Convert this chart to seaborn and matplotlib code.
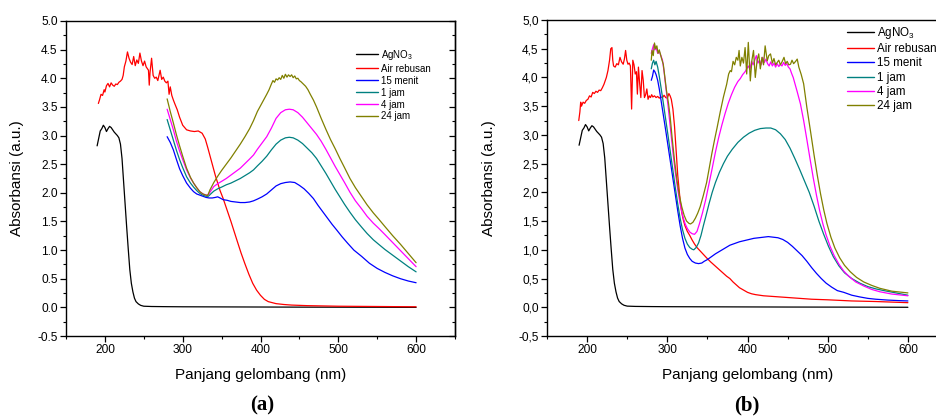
import numpy as np
import pandas as pd
import matplotlib
matplotlib.use("Agg")
import matplotlib.pyplot as plt
import seaborn as sns
from matplotlib.ticker import MultipleLocator, FixedLocator, FuncFormatter
from matplotlib.lines import Line2D

# ---------------- data ----------------
series_labels = ["AgNO$_3$", "Air rebusan", "15 menit", "1 jam", "4 jam", "24 jam"]
series_colors = ["#000000", "#ff0000", "#0000ff", "#008080", "#ff00ff", "#808000"]

# AgNO3 (same spectrum in both panels)
agno3_nm = [190, 192, 194, 196, 198, 200, 202, 204, 206, 208, 210, 212, 214, 216, 218, 220,
            222, 224, 226, 228, 230, 232, 234, 236, 238, 240, 243, 246, 250, 260, 280, 300,
            350, 400, 450, 500, 550, 600]
agno3_abs = [2.82, 2.95, 3.08, 3.12, 3.18, 3.14, 3.07, 3.12, 3.16, 3.14, 3.10, 3.06, 3.03, 3.00, 2.96, 2.85,
             2.60, 2.20, 1.80, 1.40, 1.02, 0.66, 0.42, 0.27, 0.16, 0.10, 0.06, 0.035, 0.02, 0.015, 0.012, 0.01,
             0.008, 0.006, 0.004, 0.003, 0.002, 0.0]

# ---- panel (a) ----
a_air_nm = [191.6, 193, 195, 197, 199, 200, 202, 204, 206, 208, 210, 212, 214, 216, 218, 220, 222, 223.5,
            225, 227, 229, 231, 233, 235, 237, 239, 241, 243, 245, 247, 249, 251, 253, 255, 256, 257, 258,
            260, 262, 264, 266, 268, 270, 271, 273, 275, 277, 279, 281, 282.5, 284, 286, 288, 290, 293,
            296, 300, 305, 310, 315, 320, 325, 329, 332, 335, 338, 342, 345, 348, 352, 357, 362, 366, 370,
            375, 380, 385, 390, 395, 400, 405, 410, 420, 430, 440, 460, 500, 550, 600]
a_air_abs = [3.56, 3.62, 3.72, 3.70, 3.80, 3.76, 3.87, 3.91, 3.85, 3.92, 3.88, 3.86, 3.90, 3.89, 3.93, 3.95,
             3.98, 4.05, 4.20, 4.30, 4.46, 4.35, 4.28, 4.24, 4.38, 4.22, 4.32, 4.26, 4.44, 4.30, 4.22, 4.30,
             4.20, 4.16, 4.14, 3.88, 4.10, 4.35, 4.05, 4.00, 4.02, 3.96, 4.08, 4.14, 3.98, 4.02, 3.95, 3.92,
             3.95, 3.72, 3.85, 3.70, 3.62, 3.55, 3.45, 3.32, 3.18, 3.10, 3.08, 3.07, 3.08, 3.04, 2.94, 2.80,
             2.65, 2.50, 2.30, 2.17, 2.04, 1.90, 1.70, 1.50, 1.33, 1.16, 0.95, 0.76, 0.58, 0.42, 0.30, 0.21,
             0.14, 0.10, 0.065, 0.05, 0.04, 0.03, 0.02, 0.015, 0.01]

a_15m_nm = [280, 284, 288, 292, 296, 300, 305, 310, 314, 318, 322, 326, 330, 334, 338, 342, 345, 348, 352,
            357, 362, 368, 374, 380, 386, 391, 396, 402, 408, 414, 420, 426, 432, 438, 444, 450, 456, 462,
            468, 474, 480, 486, 492, 498, 505, 512, 520, 530, 540, 550, 560, 570, 580, 590, 600]
a_15m_abs = [2.98, 2.88, 2.75, 2.58, 2.42, 2.30, 2.17, 2.08, 2.02, 1.98, 1.96, 1.94, 1.92, 1.91, 1.91, 1.92,
             1.93, 1.91, 1.88, 1.87, 1.85, 1.84, 1.83, 1.83, 1.84, 1.86, 1.89, 1.93, 1.98, 2.05, 2.12, 2.16,
             2.18, 2.19, 2.18, 2.13, 2.07, 1.99, 1.90, 1.78, 1.67, 1.56, 1.45, 1.35, 1.23, 1.12, 1.00, 0.89,
             0.77, 0.68, 0.61, 0.55, 0.50, 0.46, 0.43]

a_1j_nm = [280, 284, 288, 292, 296, 300, 305, 310, 314, 318, 322, 326, 330, 333, 336, 340, 345, 350, 356,
           362, 368, 374, 380, 386, 391, 396, 402, 408, 414, 420, 426, 432, 437, 442, 448, 454, 460, 466,
           472, 478, 484, 490, 496, 502, 508, 515, 522, 530, 537, 545, 552, 560, 570, 580, 590, 600]
a_1j_abs = [3.28, 3.10, 2.92, 2.74, 2.58, 2.44, 2.28, 2.17, 2.10, 2.04, 1.99, 1.96, 1.94, 1.94, 1.98, 2.03,
            2.07, 2.10, 2.14, 2.17, 2.21, 2.25, 2.30, 2.35, 2.40, 2.47, 2.55, 2.64, 2.75, 2.85, 2.92, 2.96,
            2.97, 2.96, 2.92, 2.86, 2.78, 2.70, 2.60, 2.47, 2.34, 2.20, 2.06, 1.93, 1.80, 1.66, 1.53, 1.40,
            1.29, 1.18, 1.10, 1.01, 0.91, 0.81, 0.71, 0.62]

a_4j_nm = [280, 284, 288, 292, 296, 300, 305, 310, 314, 318, 322, 326, 330, 333, 336, 340, 345, 350, 356,
           362, 368, 374, 380, 386, 391, 396, 402, 408, 414, 420, 426, 432, 437, 442, 448, 454, 460, 466,
           472, 478, 484, 490, 496, 502, 508, 515, 522, 530, 537, 545, 552, 560, 570, 580, 590, 600]
a_4j_abs = [3.46, 3.28, 3.10, 2.90, 2.73, 2.58, 2.40, 2.26, 2.17, 2.09, 2.02, 1.98, 1.96, 1.97, 2.03, 2.11,
            2.16, 2.20, 2.25, 2.31, 2.37, 2.43, 2.51, 2.59, 2.66, 2.76, 2.87, 2.98, 3.13, 3.30, 3.40, 3.45,
            3.46, 3.45, 3.40, 3.32, 3.22, 3.12, 3.02, 2.90, 2.76, 2.61, 2.46, 2.32, 2.18, 2.01, 1.86, 1.72,
            1.59, 1.47, 1.38, 1.27, 1.13, 0.99, 0.85, 0.71]

a_24j_nm = [280, 284, 288, 292, 296, 300, 305, 310, 314, 318, 322, 326, 330, 332, 335, 340, 345, 350, 356,
            362, 368, 374, 380, 386, 391, 396, 400, 404, 408, 411, 414, 416, 418, 420, 422, 424, 426, 428,
            430, 432, 434, 436, 438, 440, 442, 444, 446, 448, 450, 452, 455, 458, 461, 464, 468, 472, 478,
            484, 490, 496, 502, 508, 515, 522, 530, 537, 545, 552, 560, 570, 580, 590, 600]
a_24j_abs = [3.64, 3.42, 3.22, 3.01, 2.82, 2.64, 2.43, 2.27, 2.17, 2.09, 2.02, 1.98, 1.96, 1.95, 2.05, 2.18,
             2.29, 2.39, 2.50, 2.61, 2.73, 2.85, 2.98, 3.12, 3.26, 3.42, 3.52, 3.62, 3.72, 3.80, 3.90, 3.96,
             3.93, 3.99, 3.97, 4.01, 3.98, 4.05, 4.00, 4.07, 4.02, 4.06, 4.03, 4.06, 4.01, 4.04, 3.99, 4.00,
             3.96, 3.94, 3.90, 3.86, 3.80, 3.72, 3.62, 3.50, 3.30, 3.11, 2.93, 2.77, 2.60, 2.44, 2.25, 2.09,
             1.93, 1.79, 1.65, 1.54, 1.41, 1.25, 1.10, 0.94, 0.78]

# ---- panel (b) ----
b_air_nm = [189.6, 191, 192, 193, 195, 197, 199, 201, 203, 205, 207, 209, 211, 213, 215, 217, 219, 221, 222,
            224, 226, 228, 229.5, 231, 232, 233, 235, 237, 239, 241, 243, 245, 246.5, 248, 249.5, 251, 252.5,
            254, 255.5, 257, 258.5, 260, 261.5, 262.7, 264, 265.5, 267, 268.5, 270, 271.5, 273, 274.5, 276,
            277.5, 279, 280.5, 282, 284, 286, 288, 290, 292, 294, 296, 298, 300, 302, 303.5, 305, 307, 309,
            311, 313, 316, 318, 320, 322, 325, 328, 331, 334, 337, 341, 345, 349, 354, 358, 362, 366, 370,
            374, 378, 382, 386, 390, 395, 400, 405, 410, 420, 430, 440, 460, 480, 500, 530, 560, 600]
b_air_abs = [3.25, 3.40, 3.57, 3.50, 3.57, 3.55, 3.60, 3.62, 3.68, 3.66, 3.74, 3.72, 3.76, 3.74, 3.78, 3.77,
             3.82, 3.88, 3.92, 4.00, 4.12, 4.30, 4.50, 4.52, 4.30, 4.20, 4.18, 4.24, 4.22, 4.35, 4.27, 4.23,
             4.32, 4.47, 4.30, 4.23, 4.25, 4.20, 3.45, 4.30, 4.22, 4.06, 4.10, 3.71, 4.18, 3.90, 3.65, 4.12,
             3.95, 3.65, 3.70, 3.80, 3.62, 3.68, 3.65, 3.70, 3.66, 3.68, 3.65, 3.67, 3.64, 3.66, 3.65, 3.69,
             3.65, 3.64, 3.72, 3.68, 3.62, 3.45, 3.15, 2.73, 2.30, 1.86, 1.65, 1.52, 1.42, 1.32, 1.25, 1.17,
             1.10, 1.04, 0.98, 0.92, 0.86, 0.79, 0.74, 0.69, 0.64, 0.59, 0.54, 0.50, 0.44, 0.39, 0.34, 0.30,
             0.26, 0.235, 0.22, 0.20, 0.19, 0.18, 0.16, 0.14, 0.13, 0.11, 0.10, 0.08]

b_15m_nm = [280, 281.5, 283, 284.5, 286, 288, 290, 292, 295, 298, 301, 304, 307, 310, 313, 316, 319, 322,
            325, 328, 331, 335, 339, 343, 346, 350, 355, 360, 366, 372, 378, 384, 390, 396, 402, 408, 414,
            420, 426, 432, 438, 444, 450, 456, 462, 468, 474, 480, 486, 492, 498, 505, 512, 520, 530, 540,
            550, 560, 575, 590, 600]
b_15m_abs = [3.95, 4.02, 4.13, 4.10, 4.05, 3.95, 3.80, 3.62, 3.35, 3.08, 2.80, 2.52, 2.24, 1.96, 1.68, 1.42,
             1.20, 1.03, 0.92, 0.85, 0.80, 0.77, 0.76, 0.77, 0.80, 0.83, 0.88, 0.93, 0.98, 1.03, 1.08, 1.11,
             1.14, 1.16, 1.18, 1.20, 1.21, 1.22, 1.23, 1.22, 1.21, 1.18, 1.13, 1.06, 0.98, 0.90, 0.80, 0.69,
             0.59, 0.50, 0.42, 0.35, 0.29, 0.26, 0.21, 0.18, 0.155, 0.14, 0.125, 0.115, 0.11]

b_1j_nm = [280, 281.5, 283, 284.5, 286, 288, 290, 292, 295, 298, 301, 304, 307, 310, 313, 316, 319, 322,
           325, 328, 331, 333, 336, 339, 342, 345, 348, 352, 356, 360, 365, 370, 375, 381, 388, 395, 402,
           409, 416, 423, 429, 435, 441, 447, 453, 459, 465, 471, 477, 483, 489, 495, 501, 507, 514, 521,
           530, 540, 550, 560, 570, 585, 600]
b_1j_abs = [4.15, 4.25, 4.30, 4.22, 4.28, 4.18, 4.02, 3.84, 3.56, 3.27, 2.98, 2.68, 2.38, 2.08, 1.80, 1.55,
            1.35, 1.20, 1.10, 1.04, 1.01, 1.00, 1.04, 1.12, 1.25, 1.42, 1.58, 1.80, 2.00, 2.17, 2.35, 2.50,
            2.63, 2.75, 2.87, 2.96, 3.03, 3.08, 3.11, 3.12, 3.12, 3.09, 3.02, 2.92, 2.77, 2.59, 2.40, 2.20,
            2.00, 1.76, 1.50, 1.27, 1.06, 0.88, 0.72, 0.60, 0.50, 0.42, 0.36, 0.32, 0.29, 0.25, 0.21]

b_4j_nm = [280, 281.5, 283, 284.5, 286, 288, 290, 292, 294, 296, 298, 301, 304, 307, 310, 313, 316, 319,
           322, 325, 328, 331, 334, 337, 340, 344, 348, 352, 356, 360, 364, 368, 372, 376, 380, 384, 388,
           391, 394, 397, 399, 401, 403, 405, 407, 409, 411, 413, 415, 417, 419, 421, 423, 425, 427, 429,
           431, 433, 435, 437, 439, 441, 443, 445, 447, 449, 451, 453, 455, 457, 459, 462, 466, 470, 474,
           478, 482, 486, 490, 494, 498, 503, 508, 514, 520, 527, 535, 545, 555, 565, 580, 600]
b_4j_abs = [4.42, 4.50, 4.57, 4.48, 4.52, 4.42, 4.45, 4.38, 4.30, 4.10, 3.85, 3.50, 3.10, 2.70, 2.35, 2.05,
            1.80, 1.60, 1.46, 1.37, 1.31, 1.28, 1.27, 1.32, 1.45, 1.65, 1.88, 2.15, 2.42, 2.70, 2.95, 3.17,
            3.37, 3.55, 3.70, 3.83, 3.93, 3.98, 4.05, 4.10, 4.15, 4.20, 4.14, 4.28, 4.22, 4.30, 4.38, 4.25,
            4.30, 4.22, 4.35, 4.26, 4.32, 4.24, 4.20, 4.27, 4.20, 4.25, 4.18, 4.24, 4.19, 4.23, 4.20, 4.26,
            4.21, 4.24, 4.18, 4.15, 4.07, 4.00, 3.90, 3.75, 3.54, 3.25, 2.92, 2.58, 2.25, 1.95, 1.68, 1.45,
            1.26, 1.06, 0.90, 0.75, 0.63, 0.53, 0.44, 0.37, 0.31, 0.27, 0.23, 0.20]

b_24j_nm = [280, 281, 282.5, 284, 285.5, 287, 288.5, 290, 291.5, 293, 295, 297, 299, 301.5, 303.6, 306, 309,
            312, 315, 318, 321, 324, 327, 329, 332, 335, 338, 341, 345, 349, 352, 355.6, 359, 362, 366, 370,
            374, 376.5, 378.5, 380, 382, 384, 386, 388, 389.5, 391, 393, 395, 397, 399, 401, 403.5, 405.5,
            407.5, 409.7, 412, 414, 416, 418, 420, 422, 424.6, 426.5, 428.7, 431, 433, 435, 437, 439, 441,
            443, 445.5, 447.5, 449.5, 451.5, 453.6, 455.5, 457.5, 460, 462, 464, 467, 470, 474, 478.5, 483,
            487, 491, 495, 499, 504, 509, 515, 521, 528, 536, 545, 555, 565, 580, 600]
b_24j_abs = [4.30, 4.47, 4.38, 4.60, 4.50, 4.55, 4.42, 4.48, 4.40, 4.32, 4.23, 4.00, 3.77, 3.55, 3.31, 2.95,
             2.55, 2.22, 1.95, 1.75, 1.60, 1.50, 1.46, 1.45, 1.48, 1.55, 1.64, 1.75, 1.95, 2.17, 2.40, 2.68,
             2.92, 3.12, 3.40, 3.66, 3.88, 4.06, 4.12, 4.10, 4.28, 4.22, 4.35, 4.30, 4.47, 4.20, 4.35, 4.25,
             4.52, 4.06, 4.61, 3.94, 4.30, 4.47, 4.00, 4.30, 4.41, 4.15, 4.35, 4.22, 4.55, 4.29, 4.38, 4.41,
             4.25, 4.33, 4.22, 4.26, 4.30, 4.22, 4.27, 4.35, 4.24, 4.28, 4.22, 4.23, 4.30, 4.24, 4.28, 4.32,
             4.18, 4.05, 3.89, 3.48, 3.07, 2.65, 2.30, 1.98, 1.70, 1.46, 1.22, 1.03, 0.86, 0.73, 0.62, 0.52,
             0.44, 0.38, 0.33, 0.28, 0.25]

x_ticks = [200, 300, 400, 500, 600]
y_ticks = [-0.5, 0.0, 0.5, 1.0, 1.5, 2.0, 2.5, 3.0, 3.5, 4.0, 4.5, 5.0]


def build(spectra):
    frames = []
    for lab, nm, ab in spectra:
        frames.append(pd.DataFrame({"nm": nm, "abs": ab, "series": lab}))
    return pd.concat(frames, ignore_index=True)


df_a = build([
    (series_labels[0], agno3_nm, agno3_abs),
    (series_labels[1], a_air_nm, a_air_abs),
    (series_labels[2], a_15m_nm, a_15m_abs),
    (series_labels[3], a_1j_nm, a_1j_abs),
    (series_labels[4], a_4j_nm, a_4j_abs),
    (series_labels[5], a_24j_nm, a_24j_abs),
])
df_b = build([
    (series_labels[0], agno3_nm, agno3_abs),
    (series_labels[1], b_air_nm, b_air_abs),
    (series_labels[2], b_15m_nm, b_15m_abs),
    (series_labels[3], b_1j_nm, b_1j_abs),
    (series_labels[4], b_4j_nm, b_4j_abs),
    (series_labels[5], b_24j_nm, b_24j_abs),
])

# ---------------- style ----------------
sns.set_theme(style="white")
plt.rcParams["font.family"] = ["Liberation Sans", "DejaVu Sans"]
plt.rcParams["mathtext.default"] = "regular"
plt.rcParams["text.color"] = "black"
plt.rcParams["axes.labelcolor"] = "black"
plt.rcParams["xtick.color"] = "black"
plt.rcParams["ytick.color"] = "black"

fig = plt.figure(figsize=(9.36, 4.19), dpi=100)
W, H = 936.0, 419.0
ax_a = fig.add_axes([66 / W, (H - 336) / H, (455 - 66) / W, (336 - 21) / H])
ax_b = fig.add_axes([547 / W, (H - 336) / H, (948 - 547) / W, (336 - 20) / H])

palette = dict(zip(series_labels, series_colors))


def style_axes(ax, decimal_comma, leg_x, leg_y, leg_fs, ylab_x):
    ax.set_xlim(150, 650)
    ax.set_ylim(-0.5, 5.0)
    for s in ax.spines.values():
        s.set_color("black")
        s.set_linewidth(1.0)
    ax.xaxis.set_major_locator(FixedLocator(x_ticks))
    ax.xaxis.set_minor_locator(MultipleLocator(50))
    ax.yaxis.set_major_locator(FixedLocator(y_ticks))
    ax.yaxis.set_minor_locator(MultipleLocator(0.25))
    if decimal_comma:
        ax.yaxis.set_major_formatter(FuncFormatter(lambda v, p: f"{v:.1f}".replace(".", ",")))
    else:
        ax.yaxis.set_major_formatter(FuncFormatter(lambda v, p: f"{v:.1f}"))
    ax.tick_params(which="major", direction="out", length=4, width=0.9, labelsize=8.6, pad=2,
                   bottom=True, left=True)
    ax.tick_params(which="minor", direction="out", length=2.5, width=0.8, bottom=True, left=True)
    sec = ax.secondary_yaxis("right")
    sec.yaxis.set_major_locator(FixedLocator(y_ticks))
    sec.yaxis.set_minor_locator(MultipleLocator(0.25))
    sec.tick_params(which="major", direction="in", length=4, width=0.9, labelright=False)
    sec.tick_params(which="minor", direction="in", length=2.5, width=0.8)
    sec.spines["right"].set_linewidth(1.0)
    ax.set_xlabel("Panjang gelombang (nm)", fontsize=11)
    ax.set_ylabel("Absorbansi (a.u.)", fontsize=11)
    ax.xaxis.set_label_coords(0.5, -0.1)
    ax.yaxis.set_label_coords(ylab_x, 0.5)
    handles = [Line2D([0], [0], color=c, lw=1.0) for c in series_colors]
    ax.legend(handles, series_labels, loc="upper left", bbox_to_anchor=(leg_x, leg_y),
              frameon=False, fontsize=leg_fs, handlelength=2.3, handletextpad=0.25,
              labelspacing=0.2, borderpad=0, borderaxespad=0)


sns.lineplot(data=df_a, x="nm", y="abs", hue="series", hue_order=series_labels, palette=palette,
             estimator=None, sort=False, linewidth=0.9, legend=False, ax=ax_a)
sns.lineplot(data=df_b, x="nm", y="abs", hue="series", hue_order=series_labels, palette=palette,
             estimator=None, sort=False, linewidth=0.9, legend=False, ax=ax_b)

style_axes(ax_a, False, 0.745, 0.915, 7.0, -0.107)
style_axes(ax_b, True, 0.748, 0.985, 8.4, -0.128)

fig.text(262 / W, 1 - 405 / H, "(a)", ha="center", va="center", fontsize=15, fontweight="bold",
         family=["Liberation Serif", "DejaVu Serif"])
fig.text(747 / W, 1 - 405 / H, "(b)", ha="center", va="center", fontsize=15, fontweight="bold",
         family=["Liberation Serif", "DejaVu Serif"])

fig.savefig("out.png", dpi=100, facecolor="white")
